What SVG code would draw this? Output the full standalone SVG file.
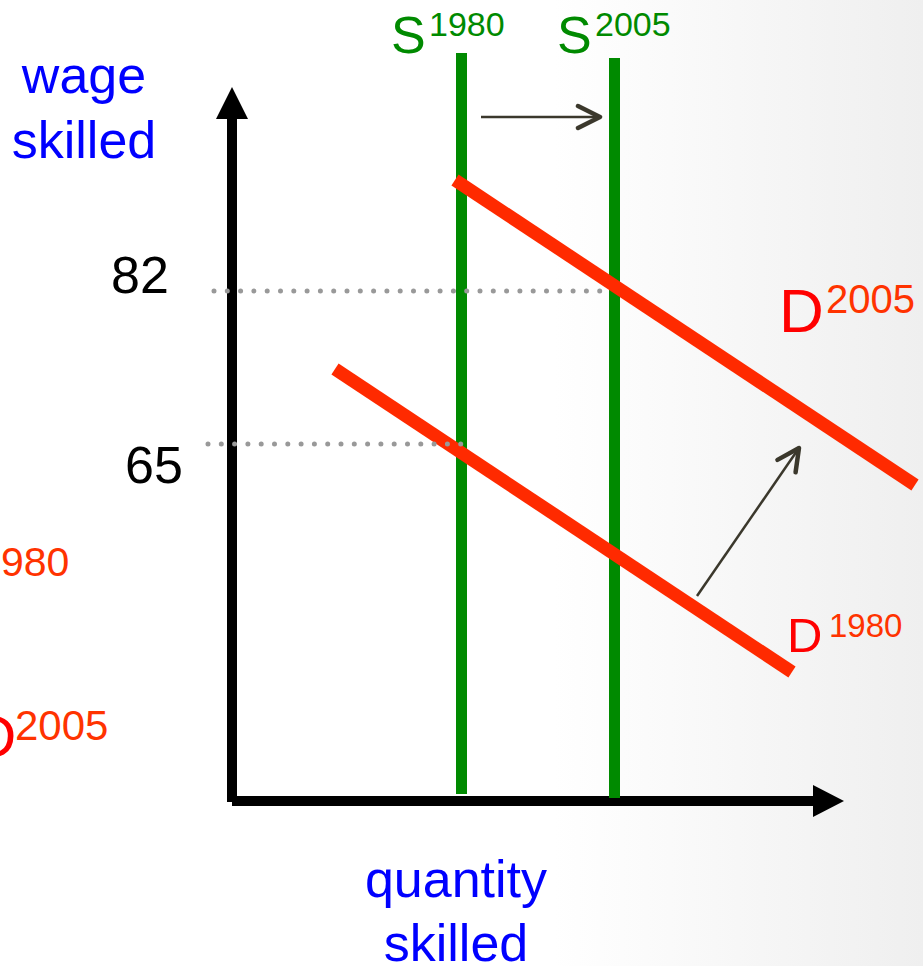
<svg xmlns="http://www.w3.org/2000/svg" width="923" height="966" viewBox="0 0 923 966">
<style>
text{font-family:"Liberation Sans",Arial,sans-serif}
.blue{fill:#0000ff;font-size:52px}
.blk{fill:#000;font-size:52px}
.grn{fill:#008a00}
.dr{fill:#ff0000}
.ds{fill:#ff3300}
.axis{stroke:#000;stroke-width:10;fill:none}
.sup{stroke:#008a00;stroke-width:11;fill:none}
.dem{stroke:#ff2a00;stroke-width:13;fill:none}
.dot{stroke:#999;stroke-width:5;stroke-linecap:round;stroke-dasharray:0 13.3;fill:none}
.shift{stroke:#3b382c;stroke-width:2.5;fill:none;marker-end:url(#chev)}
</style>
<defs>
<linearGradient id="bg" x1="0" y1="0" x2="1" y2="0">
<stop offset="0.6" stop-color="#ffffff"/>
<stop offset="1" stop-color="#efefef"/>
</linearGradient>
<marker id="chev" markerUnits="userSpaceOnUse" viewBox="-26 -14 30 28" markerWidth="30" markerHeight="28" refX="0" refY="0" orient="auto">
<path d="M-22,-11 L0,0 L-22,11" fill="none" stroke="#3b382c" stroke-width="4.5" stroke-linecap="round" stroke-linejoin="round"/>
</marker>
</defs>
<rect width="923" height="966" fill="url(#bg)"/>

<g id="connectors">
<g id="axes">
<path class="axis" d="M232,115 V802 M232,801 H815"/>
<polygon points="232,87 216,119 248,119" fill="#000"/>
<polygon points="844,801 813,785 813,817" fill="#000"/>
</g>
<g id="supply">
<line class="sup" x1="461.5" y1="53" x2="461.5" y2="794"/>
<line class="sup" x1="614.5" y1="58" x2="614.5" y2="798"/>
</g>
<g id="demand">
<line class="dem" x1="455" y1="180" x2="915" y2="485"/>
<line class="dem" x1="335" y1="369" x2="792" y2="672"/>
</g>
<g id="guides">
<line class="dot" x1="214" y1="291" x2="604" y2="291"/>
<line class="dot" x1="208" y1="444" x2="462" y2="444"/>
</g>
<g id="shifts">
<line class="shift" x1="481" y1="117" x2="600" y2="117"/>
<line class="shift" x1="697" y1="596" x2="799" y2="448"/>
</g>
</g>

<g id="label-wage">
<text class="blue" x="84" y="93" text-anchor="middle">wage</text>
<text class="blue" x="84" y="158" text-anchor="middle">skilled</text>
</g>
<g id="label-quantity">
<text class="blue" x="456" y="897" text-anchor="middle">quantity</text>
<text class="blue" x="456" y="961" text-anchor="middle">skilled</text>
</g>
<g id="label-82"><text class="blk" x="111" y="293">82</text></g>
<g id="label-65"><text class="blk" x="125" y="483">65</text></g>

<g id="label-S1980">
<text class="grn"><tspan x="391" y="53" font-size="52">S</tspan><tspan x="429" y="36" font-size="34">1980</tspan></text>
</g>
<g id="label-S2005">
<text class="grn"><tspan x="557" y="53" font-size="52">S</tspan><tspan x="595" y="36" font-size="34">2005</tspan></text>
</g>
<g id="label-D2005">
<text><tspan class="dr" x="779" y="332" font-size="62">D</tspan><tspan class="ds" x="826" y="313" font-size="40">2005</tspan></text>
</g>
<g id="label-D1980">
<text><tspan class="dr" x="787" y="652" font-size="49">D</tspan><tspan class="ds" x="829" y="637" font-size="33">1980</tspan></text>
</g>
<g id="label-left-1980">
<text class="ds" x="1" y="576" font-size="41">980</text>
</g>
<g id="label-left-D2005">
<text><tspan class="dr" x="-27" y="757" font-size="60">D</tspan><tspan class="ds" x="15" y="740" font-size="42">2005</tspan></text>
</g>
</svg>
